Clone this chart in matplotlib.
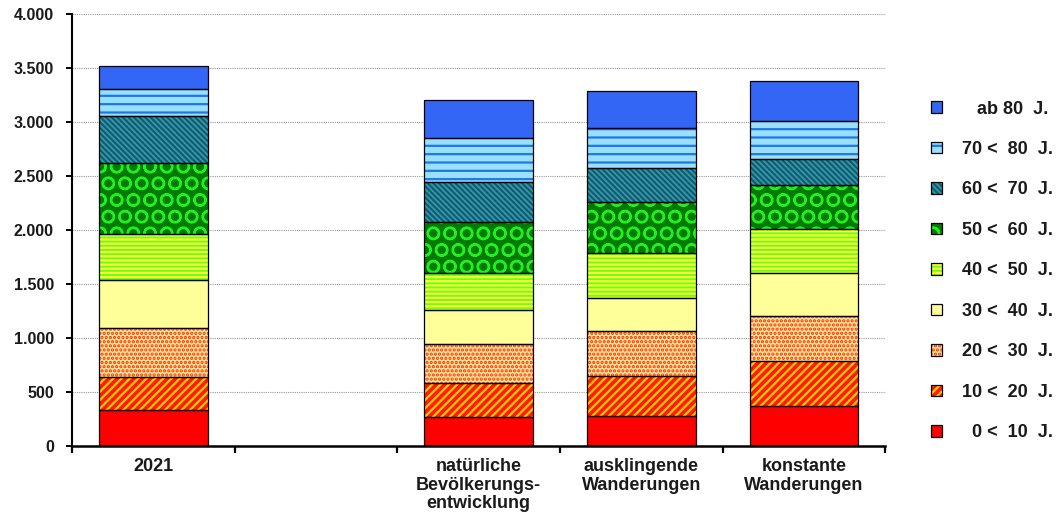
import numpy as np
import matplotlib.pyplot as plt
from matplotlib.patches import Patch
from matplotlib.legend_handler import HandlerTuple
from matplotlib.ticker import FuncFormatter

plt.rcParams['font.family'] = ['Liberation Sans', 'DejaVu Sans']
plt.rcParams['font.weight'] = 'bold'
plt.rcParams['hatch.linewidth'] = 1.6

# Spalten (leere Spalte = Lücke zwischen 2021 und den Varianten)
spalten = ['2021', '', 'natürliche\nBevölkerungs-\nentwicklung',
           'ausklingende\nWanderungen', 'konstante\nWanderungen']

# Werte je Altersgruppe (2021, natürliche, ausklingende, konstante)
alter_0_10 = [335, 270, 280, 370]
alter_10_20 = [305, 315, 370, 415]
alter_20_30 = [455, 360, 415, 415]
alter_30_40 = [445, 315, 305, 405]
alter_40_50 = [425, 345, 415, 400]
alter_50_60 = [655, 470, 470, 415]
alter_60_70 = [435, 370, 315, 240]
alter_70_80 = [250, 410, 370, 350]
ab_80 = [210, 350, 345, 370]

# führende Leerzeichen: Texte stehen rechtsbündig wie im Original
gruppen = ['  0 <  10  J.', '10 <  20  J.', '20 <  30  J.', '30 <  40  J.',
           '40 <  50  J.', '50 <  60  J.', '60 <  70  J.', '70 <  80  J.',
           '   ab 80  J.']
werte = [alter_0_10, alter_10_20, alter_20_30, alter_30_40, alter_40_50,
         alter_50_60, alter_60_70, alter_70_80, ab_80]

# Füllfarbe, Muster, Musterfarbe
stil = [('#FF0000', None, '#FF0000'),
        ('#FF1A00', '////', '#FFCC00'),
        ('#FFE8A0', '....', '#FF3300'),
        ('#FFFF99', None, '#FFFF99'),
        ('#66FF22', '----', '#FFFF33'),
        ('#007A00', 'O', '#22EE22'),
        ('#2FA0A0', '\\' * 6, '#17587A'),
        ('#9ADFFF', '--', '#1E78E0'),
        ('#3366F5', None, '#3366F5')]

textfarbe = '#1a1a1a'

fig, ax = plt.subplots(figsize=(10.59, 5.22), dpi=100)
fig.subplots_adjust(left=0.068, right=0.836, bottom=0.146, top=0.973)

x = np.arange(len(spalten))
xb = x[[s != '' for s in spalten]]
breite = 0.67

unten = np.zeros(len(xb))
handles = []
for w, (farbe, muster, mfarbe), name in zip(werte, stil, gruppen):
    w = np.array(w, dtype=float)
    ax.bar(xb, w, breite, bottom=unten, color=farbe, edgecolor=mfarbe,
           hatch=muster, linewidth=0, zorder=2)
    ax.bar(xb, w, breite, bottom=unten, fill=False, edgecolor='black',
           linewidth=0.9, zorder=3)
    unten += w
    handles.append((Patch(facecolor=farbe, edgecolor=mfarbe, hatch=muster, linewidth=0),
                    Patch(fill=False, edgecolor='black', linewidth=0.9)))

ax.set_xlim(-0.5, len(spalten) - 0.5)
ax.set_ylim(0, 4000)
ax.set_yticks(np.arange(0, 4001, 500))
ax.yaxis.set_major_formatter(FuncFormatter(lambda v, p: f'{v:,.0f}'.replace(',', '.')))
ax.yaxis.grid(True, color='#999999', linestyle=(0, (1, 1)), linewidth=0.8, zorder=0)
ax.set_axisbelow(True)

ax.set_xticks(np.arange(len(spalten) + 1) - 0.5)
ax.set_xticklabels([])
ax.set_xticks(x, spalten, minor=True)
ax.tick_params(axis='x', which='major', length=5, width=1.6, direction='out')
ax.tick_params(axis='x', which='minor', length=0, pad=9, labelsize=13,
               labelcolor=textfarbe)
ax.tick_params(axis='y', length=4, width=1.4, pad=9, labelsize=11.5,
               labelcolor=textfarbe)
for t in ax.get_xticklabels(minor=True):
    t.set_linespacing(1.1)

for s in ['top', 'right']:
    ax.spines[s].set_visible(False)
ax.spines['left'].set_linewidth(1.5)
ax.spines['bottom'].set_linewidth(1.8)

ax.legend(handles[::-1], gruppen[::-1], loc='center left',
          bbox_to_anchor=(931 / 1059, 0.481), bbox_transform=fig.transFigure,
          frameon=False, borderpad=0, borderaxespad=0,
          handlelength=0.6, handleheight=0.6, handletextpad=1.1,
          labelspacing=1.3, fontsize=13, labelcolor=textfarbe,
          handler_map={tuple: HandlerTuple(ndivide=1, pad=0)})

fig.savefig('out.png', dpi=100)
